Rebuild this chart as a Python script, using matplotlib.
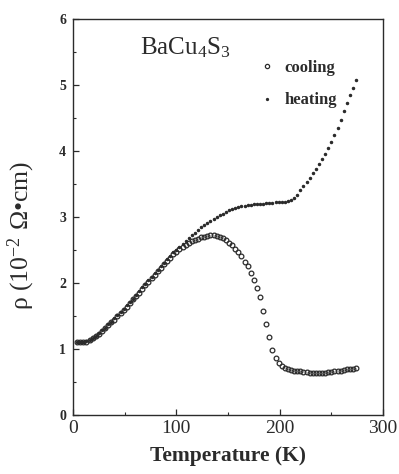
import numpy as np
import matplotlib
matplotlib.use('Agg')
import matplotlib.pyplot as plt
from matplotlib.ticker import MultipleLocator

# cooling run (open circles)
t_cool = [4, 7, 10, 13, 16, 19, 22, 25, 28, 31, 34, 37, 40, 43, 46, 49, 52, 55, 58, 61,
          64, 67, 70, 73, 76, 79, 82, 85, 88, 91, 94, 97, 100, 103, 106, 109, 112, 115, 118, 121,
          124, 127, 130, 133, 136, 139, 142, 145, 148, 151, 154, 157, 160, 163, 166, 169, 172, 175, 178, 181,
          184, 187, 190, 193, 196, 199, 202, 205, 208, 211, 214, 217, 220, 223, 226, 229, 232, 235, 238, 241,
          244, 247, 250, 253, 256, 259, 262, 265, 268, 271, 274]
rho_cool = [1.11, 1.10, 1.10, 1.11, 1.13, 1.16, 1.19, 1.23, 1.27, 1.31, 1.36, 1.40, 1.44, 1.49, 1.54, 1.59, 1.64, 1.69, 1.75, 1.80,
            1.85, 1.91, 1.96, 2.02, 2.07, 2.12, 2.18, 2.23, 2.28, 2.33, 2.38, 2.43, 2.47, 2.51, 2.55, 2.58, 2.61, 2.63, 2.65, 2.67,
            2.69, 2.70, 2.71, 2.72, 2.72, 2.71, 2.70, 2.68, 2.65, 2.61, 2.57, 2.52, 2.47, 2.40, 2.32, 2.25, 2.15, 2.05, 1.92, 1.79,
            1.58, 1.38, 1.18, 0.98, 0.86, 0.78, 0.74, 0.71, 0.70, 0.68, 0.67, 0.66, 0.66, 0.65, 0.65, 0.64, 0.64, 0.64, 0.64, 0.64,
            0.64, 0.65, 0.65, 0.66, 0.66, 0.67, 0.68, 0.69, 0.70, 0.70, 0.71]

# heating run (small dots)
t_heat = [4, 7, 10, 13, 16, 19, 22, 25, 28, 31, 34, 37, 40, 43, 46, 49, 52, 55, 58, 61,
          64, 67, 70, 73, 76, 79, 82, 85, 88, 91, 94, 97, 100, 103, 106, 109, 112, 115, 118, 121,
          124, 127, 130, 133, 136, 139, 142, 145, 148, 151, 154, 157, 160, 163, 166, 169, 172, 175, 178, 181,
          184, 187, 190, 193, 196, 199, 202, 205, 208, 211, 214, 217, 220, 223, 226, 229, 232, 235, 238, 241,
          244, 247, 250, 253, 256, 259, 262, 265, 268, 271, 274]
rho_heat = [1.10, 1.10, 1.11, 1.12, 1.14, 1.17, 1.20, 1.24, 1.28, 1.32, 1.37, 1.41, 1.46, 1.51, 1.56, 1.61, 1.66, 1.71, 1.76, 1.82,
            1.87, 1.93, 1.98, 2.04, 2.09, 2.15, 2.20, 2.25, 2.30, 2.36, 2.41, 2.46, 2.50, 2.55, 2.59, 2.63, 2.68, 2.72, 2.76, 2.80,
            2.84, 2.88, 2.91, 2.94, 2.97, 3.00, 3.03, 3.05, 3.08, 3.10, 3.12, 3.13, 3.15, 3.16, 3.17, 3.18, 3.18, 3.19, 3.19, 3.20,
            3.20, 3.21, 3.21, 3.21, 3.22, 3.22, 3.22, 3.23, 3.24, 3.25, 3.28, 3.33, 3.40, 3.47, 3.53, 3.59, 3.66, 3.73, 3.80, 3.88,
            3.96, 4.05, 4.14, 4.24, 4.35, 4.47, 4.60, 4.72, 4.84, 4.95, 5.08]

ink = '#2b2b2b'
plt.rcParams['font.family'] = ['Liberation Serif', 'DejaVu Serif']
plt.rcParams['mathtext.fontset'] = 'custom'
plt.rcParams['mathtext.rm'] = 'Liberation Serif'
plt.rcParams['mathtext.it'] = 'Liberation Serif:italic'

fig = plt.figure(figsize=(3.99, 4.74), dpi=100)
ax = fig.add_axes([0.183, 0.125, 0.777, 0.835])

ax.plot(t_cool, rho_cool, 'o', ms=3.4, mfc='none', mec=ink, mew=0.9, label='cooling')
ax.plot(t_heat, rho_heat, '.', ms=3.0, color=ink, label='heating')

ax.set_xlim(0, 300)
ax.set_ylim(0, 6)
ax.xaxis.set_major_locator(MultipleLocator(100))
ax.xaxis.set_minor_locator(MultipleLocator(50))
ax.yaxis.set_major_locator(MultipleLocator(1))
ax.yaxis.set_minor_locator(MultipleLocator(0.5))
ax.tick_params(which='both', direction='in', color=ink)
ax.tick_params(which='major', length=4, width=0.9)
ax.tick_params(which='minor', length=2.5, width=0.8)
ax.tick_params(axis='x', labelsize=14, labelcolor=ink, pad=4)
ax.tick_params(axis='y', labelsize=10, labelcolor=ink, pad=5)
for lab in ax.get_yticklabels():
    lab.set_fontweight('bold')
for s in ax.spines.values():
    s.set_color(ink)
    s.set_linewidth(1.0)

ax.set_xlabel('Temperature (K)', fontsize=15.5, fontweight='bold', color=ink, labelpad=6)
ax.set_ylabel(r'ρ (10$^{-2}$ Ω•cm)', fontsize=18.5, color=ink)
ax.yaxis.set_label_coords(-0.115, 0.452)

ax.text(65, 5.56, r'BaCu$_{4}$S$_{3}$', fontsize=18, color=ink, va='center')

leg = ax.legend(loc='upper left', bbox_to_anchor=(0.545, 0.935), frameon=False,
                prop={'family': 'Liberation Serif', 'weight': 'bold', 'size': 12},
                handlelength=1.2, handletextpad=0.45, labelspacing=1.0, markerscale=0.9)
for t in leg.get_texts():
    t.set_color(ink)

fig.savefig('out.png', dpi=100, facecolor='white')
